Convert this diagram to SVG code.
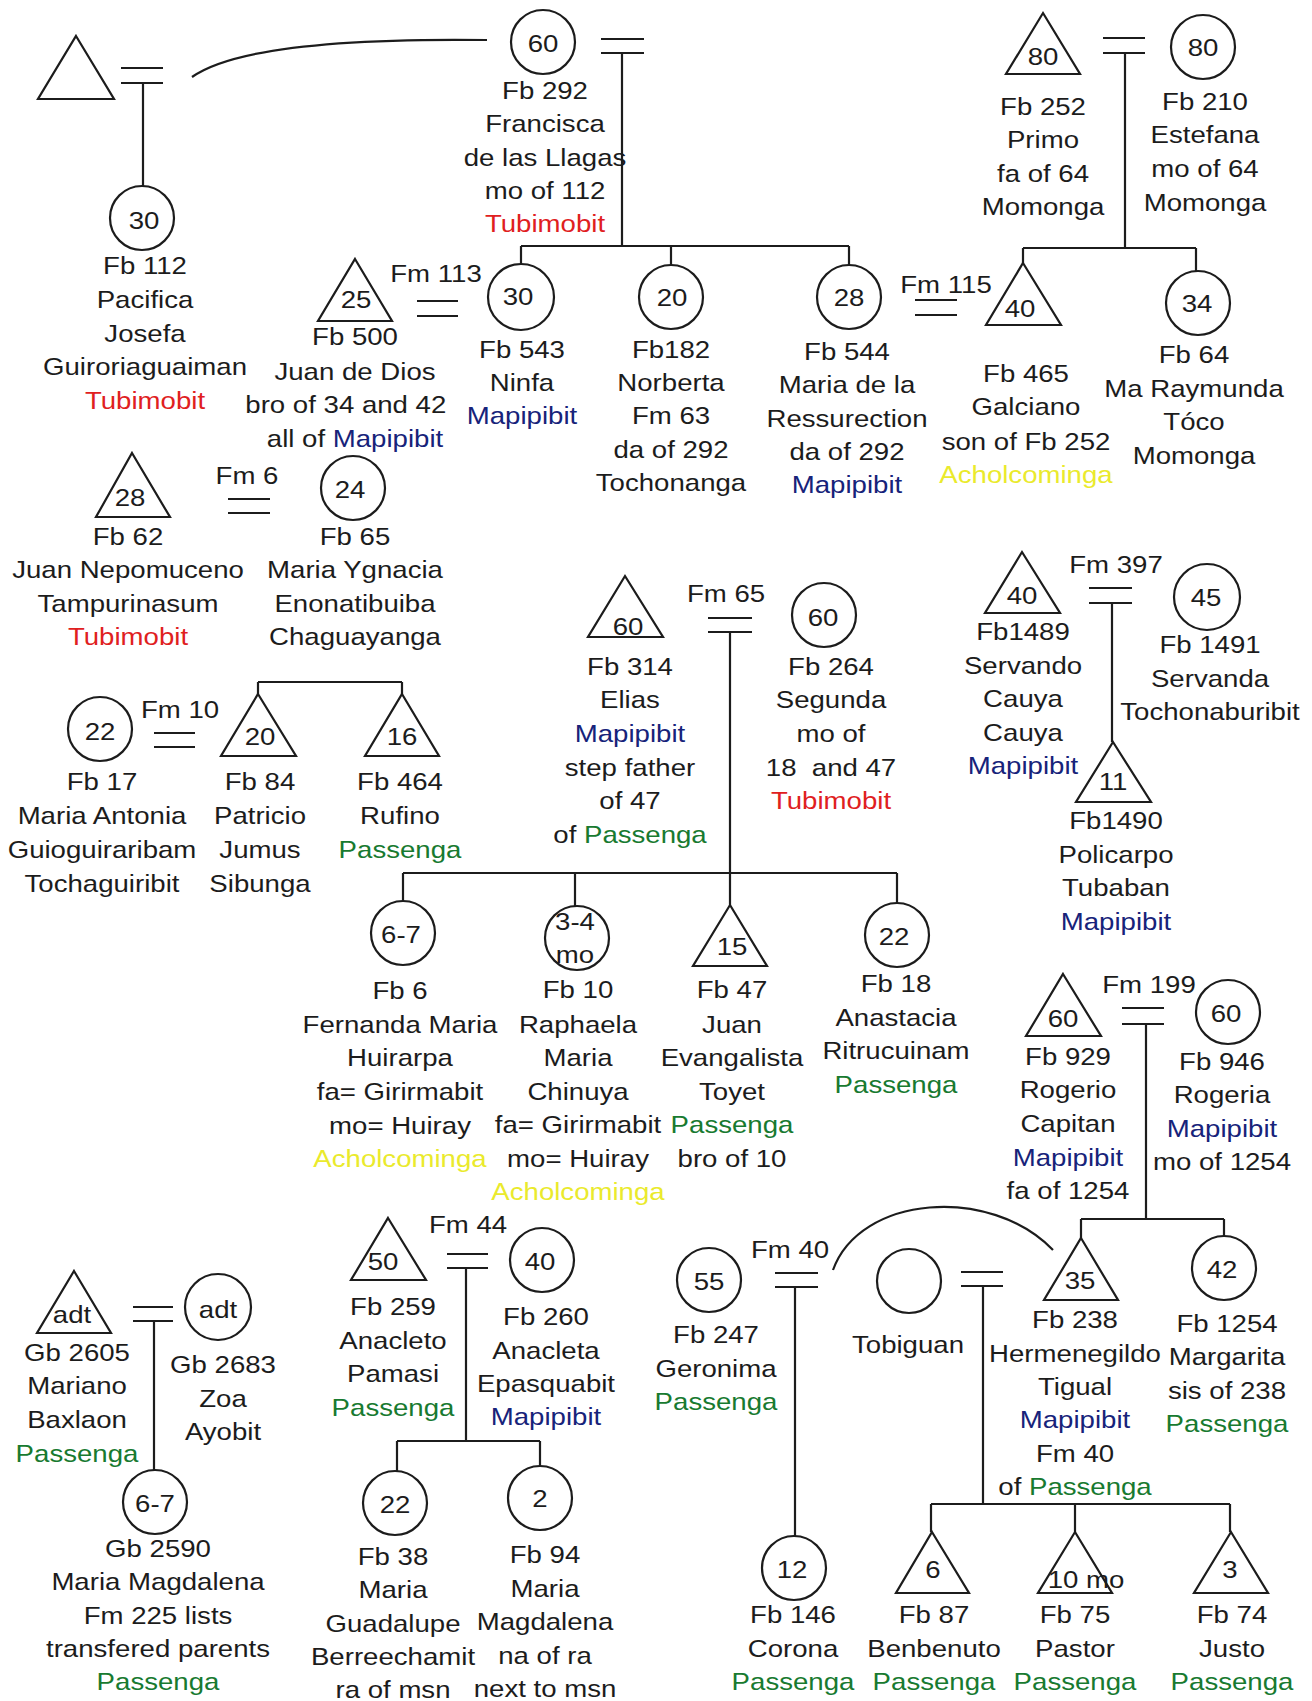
<svg xmlns="http://www.w3.org/2000/svg" width="1312" height="1701" viewBox="0 0 1312 1701">
<style>
.sh{fill:none;stroke:#1c1c1c;stroke-width:2.2}
.ln{fill:none;stroke:#1c1c1c;stroke-width:2.2}
text{font-family:"Liberation Sans",Arial,Helvetica,sans-serif;font-size:24px;fill:#1c1c1c;text-anchor:middle}
.r{fill:#e0201e}.b{fill:#17237a}.g{fill:#187a30}.y{fill:#eaea2c}
</style>
<rect width="1312" height="1701" fill="#fff"/>
<g id="connectors">
<path class="ln" d="M121,68H163M121,83H163M143,83V186"/>
<path class="ln" d="M192,77C230,50 330,38 487,40"/>
<path class="ln" d="M601,39H644M601,53H644M622,53V246M521,246H849M521,246V264M671,246V265M849,246V265"/>
<path class="ln" d="M417,301H458M417,316H458"/>
<path class="ln" d="M1103,38H1145M1103,53H1145M1125,53V248M1023,248H1196M1023,248V263M1196,248V271"/>
<path class="ln" d="M915,300H957M915,315H957"/>
<path class="ln" d="M228,499H270M228,513H270"/>
<path class="ln" d="M154,733H195M154,747H195M258,682H402M258,682V694M402,682V694"/>
<path class="ln" d="M708,618H752M708,632H752M730,632V905M403,873H897M403,873V901M575,873V906M897,873V903"/>
<path class="ln" d="M1089,588H1132M1089,603H1132M1112,603V742"/>
<path class="ln" d="M1122,1008H1164M1122,1024H1164M1146,1024V1219M1081,1219H1224M1081,1219V1238M1224,1219V1236"/>
<path class="ln" d="M961,1272H1003M961,1286H1003M983,1286V1504M931,1504H1230M931,1504V1532M1075,1504V1532M1230,1504V1532"/>
<path class="ln" d="M775,1273H818M775,1287H818M795,1287V1536"/>
<path class="ln" d="M833,1270C860,1195 990,1185 1053,1250"/>
<path class="ln" d="M447,1254H488M447,1268H488M466,1268V1441M397,1441H540M397,1441V1471M540,1441V1466"/>
<path class="ln" d="M133,1307H173M133,1321H173M154,1321V1470"/>
<g transform="translate(436 0) scale(1.15 1)"><text y="282">Fm 113</text></g>
<g transform="translate(946 0) scale(1.15 1)"><text y="293">Fm 115</text></g>
<g transform="translate(247 0) scale(1.15 1)"><text y="484">Fm 6</text></g>
<g transform="translate(180 0) scale(1.15 1)"><text y="718">Fm 10</text></g>
<g transform="translate(726 0) scale(1.15 1)"><text y="602">Fm 65</text></g>
<g transform="translate(1116 0) scale(1.15 1)"><text y="573">Fm 397</text></g>
<g transform="translate(1149 0) scale(1.15 1)"><text y="993">Fm 199</text></g>
<g transform="translate(468 0) scale(1.15 1)"><text y="1233">Fm 44</text></g>
<g transform="translate(790 0) scale(1.15 1)"><text y="1258">Fm 40</text></g>
</g>

<g id="n-father112"><polygon class="sh" points="76,36 114,99 38,99"/></g>

<g id="n-fb112"><circle class="sh" cx="142" cy="218" r="32"/>
<g transform="translate(144 0) scale(1.15 1)"><text y="229">30</text></g>
<g transform="translate(145 0) scale(1.15 1)"><text y="274">Fb 112</text><text y="308">Pacifica</text><text y="342">Josefa</text><text y="375">Guiroriaguaiman</text><text class="r" y="409">Tubimobit</text></g></g>

<g id="n-fb292"><circle class="sh" cx="543" cy="42" r="32"/>
<g transform="translate(543 0) scale(1.15 1)"><text y="52">60</text></g>
<g transform="translate(545 0) scale(1.15 1)"><text y="99">Fb 292</text><text y="132">Francisca</text><text y="166">de las Llagas</text><text y="199">mo of 112</text><text class="r" y="232">Tubimobit</text></g></g>

<g id="n-fb252"><polygon class="sh" points="1043,13 1080,74 1006,74"/>
<g transform="translate(1043 0) scale(1.15 1)"><text y="65">80</text></g>
<g transform="translate(1043 0) scale(1.15 1)"><text y="115">Fb 252</text><text y="148">Primo</text><text y="182">fa of 64</text><text y="215">Momonga</text></g></g>

<g id="n-fb210"><circle class="sh" cx="1203" cy="47" r="32"/>
<g transform="translate(1203 0) scale(1.15 1)"><text y="56">80</text></g>
<g transform="translate(1205 0) scale(1.15 1)"><text y="110">Fb 210</text><text y="143">Estefana</text><text y="177">mo of 64</text><text y="211">Momonga</text></g></g>

<g id="n-fb500"><polygon class="sh" points="355,259 392,321 318,321"/>
<g transform="translate(356 0) scale(1.15 1)"><text y="308">25</text></g>
<g transform="translate(355 0) scale(1.15 1)"><text y="345">Fb 500</text><text y="380">Juan de Dios</text><text x="-8" y="413">bro of 34 and 42</text><text y="447">all of <tspan class="b">Mapipibit</tspan></text></g></g>

<g id="n-fb543"><circle class="sh" cx="521" cy="297" r="33"/>
<g transform="translate(518 0) scale(1.15 1)"><text y="305">30</text></g>
<g transform="translate(522 0) scale(1.15 1)"><text y="358">Fb 543</text><text y="391">Ninfa</text><text class="b" y="424">Mapipibit</text></g></g>

<g id="n-fb182"><circle class="sh" cx="671" cy="297" r="32"/>
<g transform="translate(672 0) scale(1.15 1)"><text y="306">20</text></g>
<g transform="translate(671 0) scale(1.15 1)"><text y="358">Fb182</text><text y="391">Norberta</text><text y="424">Fm 63</text><text y="458">da of 292</text><text y="491">Tochonanga</text></g></g>

<g id="n-fb544"><circle class="sh" cx="849" cy="297" r="32"/>
<g transform="translate(849 0) scale(1.15 1)"><text y="306">28</text></g>
<g transform="translate(847 0) scale(1.15 1)"><text y="360">Fb 544</text><text y="393">Maria de la</text><text y="427">Ressurection</text><text y="460">da of 292</text><text class="b" y="493">Mapipibit</text></g></g>

<g id="n-fb465"><polygon class="sh" points="1023,263 1061,325 986,325"/>
<g transform="translate(1020 0) scale(1.15 1)"><text y="317">40</text></g>
<g transform="translate(1026 0) scale(1.15 1)"><text y="382">Fb 465</text><text y="415">Galciano</text><text y="450">son of Fb 252</text><text class="y" y="483">Acholcominga</text></g></g>

<g id="n-fb64"><circle class="sh" cx="1198" cy="303" r="32"/>
<g transform="translate(1197 0) scale(1.15 1)"><text y="312">34</text></g>
<g transform="translate(1194 0) scale(1.15 1)"><text y="363">Fb 64</text><text y="397">Ma Raymunda</text><text y="430">Tóco</text><text y="464">Momonga</text></g></g>

<g id="n-fb62"><polygon class="sh" points="132,453 170,517 96,517"/>
<g transform="translate(130 0) scale(1.15 1)"><text y="506">28</text></g>
<g transform="translate(128 0) scale(1.15 1)"><text y="545">Fb 62</text><text y="578">Juan Nepomuceno</text><text y="612">Tampurinasum</text><text class="r" y="645">Tubimobit</text></g></g>

<g id="n-fb65"><circle class="sh" cx="353" cy="488" r="32"/>
<g transform="translate(350 0) scale(1.15 1)"><text y="498">24</text></g>
<g transform="translate(355 0) scale(1.15 1)"><text y="545">Fb 65</text><text y="578">Maria Ygnacia</text><text y="612">Enonatibuiba</text><text y="645">Chaguayanga</text></g></g>

<g id="n-fb17"><circle class="sh" cx="100" cy="729" r="32"/>
<g transform="translate(100 0) scale(1.15 1)"><text y="740">22</text></g>
<g transform="translate(102 0) scale(1.15 1)"><text y="790">Fb 17</text><text y="824">Maria Antonia</text><text y="858">Guioguiraribam</text><text y="892">Tochaguiribit</text></g></g>

<g id="n-fb84"><polygon class="sh" points="258,694 296,756 221,756"/>
<g transform="translate(260 0) scale(1.15 1)"><text y="745">20</text></g>
<g transform="translate(260 0) scale(1.15 1)"><text y="790">Fb 84</text><text y="824">Patricio</text><text y="858">Jumus</text><text y="892">Sibunga</text></g></g>

<g id="n-fb464"><polygon class="sh" points="402,694 439,756 365,756"/>
<g transform="translate(402 0) scale(1.15 1)"><text y="745">16</text></g>
<g transform="translate(400 0) scale(1.15 1)"><text y="790">Fb 464</text><text y="824">Rufino</text><text class="g" y="858">Passenga</text></g></g>

<g id="n-fb314"><polygon class="sh" points="625,576 663,637 588,637"/>
<g transform="translate(628 0) scale(1.15 1)"><text y="635">60</text></g>
<g transform="translate(630 0) scale(1.15 1)"><text y="675">Fb 314</text><text y="708">Elias</text><text class="b" y="742">Mapipibit</text><text y="776">step father</text><text y="809">of 47</text><text y="843">of <tspan class="g">Passenga</tspan></text></g></g>

<g id="n-fb264"><circle class="sh" cx="824" cy="615" r="32"/>
<g transform="translate(823 0) scale(1.15 1)"><text y="626">60</text></g>
<g transform="translate(831 0) scale(1.15 1)"><text y="675">Fb 264</text><text y="708">Segunda</text><text y="742">mo of</text><text y="776" xml:space="preserve">18  and 47</text><text class="r" y="809">Tubimobit</text></g></g>

<g id="n-fb6"><circle class="sh" cx="403" cy="933" r="32"/>
<g transform="translate(401 0) scale(1.15 1)"><text y="943">6-7</text></g>
<g transform="translate(400 0) scale(1.15 1)"><text y="999">Fb 6</text><text y="1033">Fernanda Maria</text><text y="1066">Huirarpa</text><text y="1100">fa= Girirmabit</text><text y="1134">mo= Huiray</text><text class="y" y="1167">Acholcominga</text></g></g>

<g id="n-fb10"><circle class="sh" cx="577" cy="938" r="32"/>
<g transform="translate(575 0) scale(1.15 1)"><text y="930">3-4</text><text y="963">mo</text></g>
<g transform="translate(578 0) scale(1.15 1)"><text y="998">Fb 10</text><text y="1033">Raphaela</text><text y="1066">Maria</text><text y="1100">Chinuya</text><text y="1133">fa= Girirmabit</text><text y="1167">mo= Huiray</text><text class="y" y="1200">Acholcominga</text></g></g>

<g id="n-fb47"><polygon class="sh" points="730,905 767,966 693,966"/>
<g transform="translate(732 0) scale(1.15 1)"><text y="955">15</text></g>
<g transform="translate(732 0) scale(1.15 1)"><text y="998">Fb 47</text><text y="1033">Juan</text><text y="1066">Evangalista</text><text y="1100">Toyet</text><text class="g" y="1133">Passenga</text><text y="1167">bro of 10</text></g></g>

<g id="n-fb18"><circle class="sh" cx="897" cy="935" r="32"/>
<g transform="translate(894 0) scale(1.15 1)"><text y="945">22</text></g>
<g transform="translate(896 0) scale(1.15 1)"><text y="992">Fb 18</text><text y="1026">Anastacia</text><text y="1059">Ritrucuinam</text><text class="g" y="1093">Passenga</text></g></g>

<g id="n-fb1489"><polygon class="sh" points="1022,552 1060,613 985,613"/>
<g transform="translate(1022 0) scale(1.15 1)"><text y="604">40</text></g>
<g transform="translate(1023 0) scale(1.15 1)"><text y="640">Fb1489</text><text y="674">Servando</text><text y="707">Cauya</text><text y="741">Cauya</text><text class="b" y="774">Mapipibit</text></g></g>

<g id="n-fb1491"><circle class="sh" cx="1207" cy="597" r="33"/>
<g transform="translate(1206 0) scale(1.15 1)"><text y="606">45</text></g>
<g transform="translate(1210 0) scale(1.15 1)"><text y="653">Fb 1491</text><text y="687">Servanda</text><text y="720">Tochonaburibit</text></g></g>

<g id="n-fb1490"><polygon class="sh" points="1113,742 1151,802 1076,802"/>
<g transform="translate(1113 0) scale(1.15 1)"><text y="790">11</text></g>
<g transform="translate(1116 0) scale(1.15 1)"><text y="829">Fb1490</text><text y="863">Policarpo</text><text y="896">Tubaban</text><text class="b" y="930">Mapipibit</text></g></g>

<g id="n-fb929"><polygon class="sh" points="1063,974 1101,1036 1026,1036"/>
<g transform="translate(1063 0) scale(1.15 1)"><text y="1027">60</text></g>
<g transform="translate(1068 0) scale(1.15 1)"><text y="1065">Fb 929</text><text y="1098">Rogerio</text><text y="1132">Capitan</text><text class="b" y="1166">Mapipibit</text><text y="1199">fa of 1254</text></g></g>

<g id="n-fb946"><circle class="sh" cx="1228" cy="1012" r="32"/>
<g transform="translate(1226 0) scale(1.15 1)"><text y="1022">60</text></g>
<g transform="translate(1222 0) scale(1.15 1)"><text y="1070">Fb 946</text><text y="1103">Rogeria</text><text class="b" y="1137">Mapipibit</text><text y="1170">mo of 1254</text></g></g>

<g id="n-fb238"><polygon class="sh" points="1081,1238 1118,1300 1044,1300"/>
<g transform="translate(1080 0) scale(1.15 1)"><text y="1289">35</text></g>
<g transform="translate(1075 0) scale(1.15 1)"><text y="1328">Fb 238</text><text y="1362">Hermenegildo</text><text y="1395">Tigual</text><text class="b" y="1428">Mapipibit</text><text y="1462">Fm 40</text><text y="1495">of <tspan class="g">Passenga</tspan></text></g></g>

<g id="n-fb1254"><circle class="sh" cx="1224" cy="1268" r="32"/>
<g transform="translate(1222 0) scale(1.15 1)"><text y="1278">42</text></g>
<g transform="translate(1227 0) scale(1.15 1)"><text y="1332">Fb 1254</text><text y="1365">Margarita</text><text y="1399">sis of 238</text><text class="g" y="1432">Passenga</text></g></g>

<g id="n-tobiguan"><circle class="sh" cx="909" cy="1281" r="32"/>
<g transform="translate(908 0) scale(1.15 1)"><text y="1353">Tobiguan</text></g></g>

<g id="n-fb87"><polygon class="sh" points="932,1532 969,1593 896,1593"/>
<g transform="translate(933 0) scale(1.15 1)"><text y="1578">6</text></g>
<g transform="translate(934 0) scale(1.15 1)"><text y="1623">Fb 87</text><text y="1657">Benbenuto</text><text class="g" y="1690">Passenga</text></g></g>

<g id="n-fb75"><polygon class="sh" points="1075,1532 1112,1593 1038,1593"/>
<g transform="translate(1086 0) scale(1.15 1)"><text y="1588">10 mo</text></g>
<g transform="translate(1075 0) scale(1.15 1)"><text y="1623">Fb 75</text><text y="1657">Pastor</text><text class="g" y="1690">Passenga</text></g></g>

<g id="n-fb74"><polygon class="sh" points="1231,1532 1268,1593 1194,1593"/>
<g transform="translate(1230 0) scale(1.15 1)"><text y="1578">3</text></g>
<g transform="translate(1232 0) scale(1.15 1)"><text y="1623">Fb 74</text><text y="1657">Justo</text><text class="g" y="1690">Passenga</text></g></g>

<g id="n-fb247"><circle class="sh" cx="709" cy="1280" r="32"/>
<g transform="translate(709 0) scale(1.15 1)"><text y="1290">55</text></g>
<g transform="translate(716 0) scale(1.15 1)"><text y="1343">Fb 247</text><text y="1377">Geronima</text><text class="g" y="1410">Passenga</text></g></g>

<g id="n-fb146"><circle class="sh" cx="794" cy="1568" r="32"/>
<g transform="translate(792 0) scale(1.15 1)"><text y="1578">12</text></g>
<g transform="translate(793 0) scale(1.15 1)"><text y="1623">Fb 146</text><text y="1657">Corona</text><text class="g" y="1690">Passenga</text></g></g>

<g id="n-fb259"><polygon class="sh" points="388,1218 426,1280 351,1280"/>
<g transform="translate(383 0) scale(1.15 1)"><text y="1270">50</text></g>
<g transform="translate(393 0) scale(1.15 1)"><text y="1315">Fb 259</text><text y="1349">Anacleto</text><text y="1382">Pamasi</text><text class="g" y="1416">Passenga</text></g></g>

<g id="n-fb260"><circle class="sh" cx="542" cy="1260" r="32"/>
<g transform="translate(540 0) scale(1.15 1)"><text y="1270">40</text></g>
<g transform="translate(546 0) scale(1.15 1)"><text y="1325">Fb 260</text><text y="1359">Anacleta</text><text y="1392">Epasquabit</text><text class="b" y="1425">Mapipibit</text></g></g>

<g id="n-fb38"><circle class="sh" cx="395" cy="1503" r="32"/>
<g transform="translate(395 0) scale(1.15 1)"><text y="1513">22</text></g>
<g transform="translate(393 0) scale(1.15 1)"><text y="1565">Fb 38</text><text y="1598">Maria</text><text y="1632">Guadalupe</text><text y="1665">Berreechamit</text><text y="1698">ra of msn</text></g></g>

<g id="n-fb94"><circle class="sh" cx="540" cy="1498" r="32"/>
<g transform="translate(540 0) scale(1.15 1)"><text y="1507">2</text></g>
<g transform="translate(545 0) scale(1.15 1)"><text y="1563">Fb 94</text><text y="1597">Maria</text><text y="1630">Magdalena</text><text y="1664">na of ra</text><text y="1697">next to msn</text></g></g>

<g id="n-gb2605"><polygon class="sh" points="74,1271 111,1333 37,1333"/>
<g transform="translate(72 0) scale(1.15 1)"><text y="1323">adt</text></g>
<g transform="translate(77 0) scale(1.15 1)"><text y="1361">Gb 2605</text><text y="1394">Mariano</text><text y="1428">Baxlaon</text><text class="g" y="1462">Passenga</text></g></g>

<g id="n-gb2683"><circle class="sh" cx="218" cy="1307" r="33"/>
<g transform="translate(218 0) scale(1.15 1)"><text y="1318">adt</text></g>
<g transform="translate(223 0) scale(1.15 1)"><text y="1373">Gb 2683</text><text y="1407">Zoa</text><text y="1440">Ayobit</text></g></g>

<g id="n-gb2590"><circle class="sh" cx="155" cy="1502" r="32"/>
<g transform="translate(155 0) scale(1.15 1)"><text y="1512">6-7</text></g>
<g transform="translate(158 0) scale(1.15 1)"><text y="1557">Gb 2590</text><text y="1590">Maria Magdalena</text><text y="1624">Fm 225 lists</text><text y="1657">transfered parents</text><text class="g" y="1690">Passenga</text></g></g>
</svg>
